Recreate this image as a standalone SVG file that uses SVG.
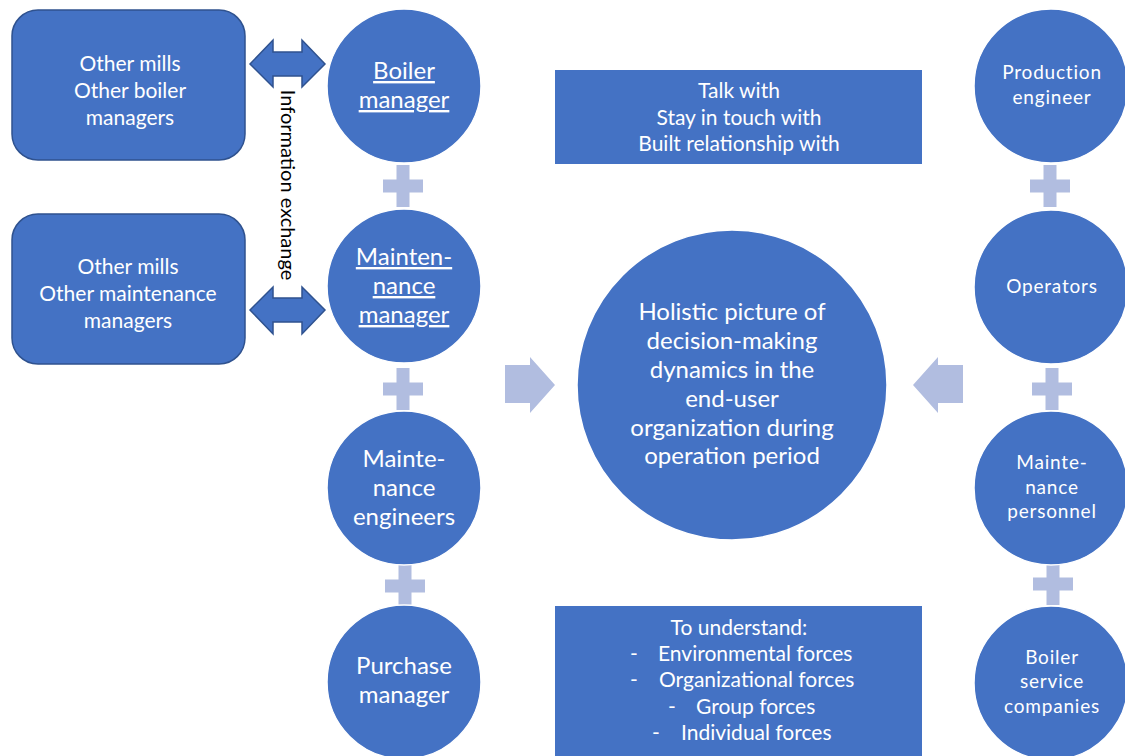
<svg xmlns="http://www.w3.org/2000/svg" width="1125" height="756" viewBox="0 0 1125 756">
  <style>
    .node { fill: #4472C4; }
    .circ { fill: #4472C4; stroke: #ffffff; stroke-width: 1.5; }
    .box { fill: #4472C4; stroke: #2F528F; stroke-width: 1.5; }
    .light { fill: #B1BDE0; }
    .dbl { fill: #4472C4; stroke: #2F528F; stroke-width: 1.5; stroke-linejoin: miter; }
    text { font-family: Lato, "Liberation Sans", sans-serif; fill: #ffffff; text-anchor: middle; }
    .t21 { font-size: 21px; }
    .t24 { font-size: 24px; }
    .tr { font-size: 19px; letter-spacing: 0.8px; }
    .u { text-decoration: underline; }
    .lab { fill: #000000; font-size: 20px; }
  </style>
  <defs>
    <path id="plus" class="light" d="M-6.5,-21 H6.5 V-6.5 H20 V6.5 H6.5 V21 H-6.5 V6.5 H-20 V-6.5 H-6.5 Z"/>
  </defs>

  <!-- connectors: plus joins, block arrows and exchange arrows -->
  <g id="connectors">
    <use href="#plus" x="403" y="186"/>
    <use href="#plus" x="403" y="389"/>
    <use href="#plus" x="405" y="586"/>
    <use href="#plus" x="1050" y="186"/>
    <use href="#plus" x="1052" y="389"/>
    <use href="#plus" x="1053" y="584"/>
    <path class="light" d="M505,365 H530 V357 L555,385 L530,413 V403 H505 Z"/>
    <path class="light" d="M963,365 H938 V357 L913,385 L938,413 V403 H963 Z"/>
    <path class="dbl" d="M250,64 L273,40 V52 H302 V40 L325,64 L302,87 V76 H273 V87 Z"/>
    <path class="dbl" d="M250,310 L273,287 V298 H302 V287 L325,310 L302,334 V322 H273 V334 Z"/>
    <rect x="275" y="78" width="25" height="218" fill="#ffffff"/>
    <text class="lab" transform="translate(281,185) rotate(90)">Information exchange</text>
  </g>

  <g id="other-boiler-managers">
    <rect class="box" x="12" y="10" width="233" height="150" rx="26"/>
    <text class="t21"><tspan x="130" y="71">Other mills</tspan><tspan x="130" y="98">Other boiler</tspan><tspan x="130" y="125">managers</tspan></text>
  </g>
  <g id="other-maintenance-managers">
    <rect class="box" x="12" y="214" width="233" height="150" rx="26"/>
    <text class="t21"><tspan x="128" y="274">Other mills</tspan><tspan x="128" y="301">Other maintenance</tspan><tspan x="128" y="328">managers</tspan></text>
  </g>

  <g id="boiler-manager">
    <circle class="circ" cx="404" cy="86" r="77"/>
    <text class="t24 u"><tspan x="404" y="79">Boiler</tspan><tspan x="404" y="108">manager</tspan></text>
  </g>
  <g id="maintenance-manager">
    <circle class="circ" cx="404" cy="286" r="77"/>
    <text class="t24 u"><tspan x="404" y="265">Mainten-</tspan><tspan x="404" y="294">nance</tspan><tspan x="404" y="323">manager</tspan></text>
  </g>
  <g id="maintenance-engineers">
    <circle class="circ" cx="404" cy="488" r="77"/>
    <text class="t24"><tspan x="404" y="467">Mainte-</tspan><tspan x="404" y="496">nance</tspan><tspan x="404" y="525">engineers</tspan></text>
  </g>
  <g id="purchase-manager">
    <circle class="circ" cx="404" cy="682" r="77"/>
    <text class="t24"><tspan x="404" y="674">Purchase</tspan><tspan x="404" y="703">manager</tspan></text>
  </g>

  <g id="talk-with">
    <rect class="node" x="555" y="70" width="367" height="94"/>
    <text class="t21"><tspan x="739" y="98">Talk with</tspan><tspan x="739" y="125">Stay in touch with</tspan><tspan x="739" y="151">Built relationship with</tspan></text>
  </g>

  <g id="holistic-picture">
    <circle class="circ" cx="732" cy="385" r="155"/>
    <text class="t24"><tspan x="732" y="320">Holistic picture of</tspan><tspan x="732" y="349">decision-making</tspan><tspan x="732" y="378">dynamics in the</tspan><tspan x="732" y="407">end-user</tspan><tspan x="732" y="436">organization during</tspan><tspan x="732" y="464">operation period</tspan></text>
  </g>

  <g id="to-understand">
    <rect class="node" x="555" y="606" width="367" height="152"/>
    <text class="t21"><tspan x="739" y="635">To understand:</tspan></text>
    <text class="t21" style="text-anchor:start">
      <tspan x="630" y="661">-</tspan><tspan x="658" y="661">Environmental forces</tspan>
      <tspan x="630" y="687">-</tspan><tspan x="659" y="687">Organizational forces</tspan>
      <tspan x="668" y="714">-</tspan><tspan x="696" y="714">Group forces</tspan>
      <tspan x="652" y="740">-</tspan><tspan x="681" y="740">Individual forces</tspan>
    </text>
  </g>

  <g id="production-engineer">
    <circle class="circ" cx="1051" cy="86" r="77"/>
    <text class="tr"><tspan x="1052" y="79">Production</tspan><tspan x="1052" y="104">engineer</tspan></text>
  </g>
  <g id="operators">
    <circle class="circ" cx="1051" cy="287" r="77"/>
    <text class="tr"><tspan x="1052" y="293">Operators</tspan></text>
  </g>
  <g id="maintenance-personnel">
    <circle class="circ" cx="1051" cy="488" r="77"/>
    <text class="tr"><tspan x="1052" y="469">Mainte-</tspan><tspan x="1052" y="494">nance</tspan><tspan x="1052" y="518">personnel</tspan></text>
  </g>
  <g id="boiler-service-companies">
    <circle class="circ" cx="1051" cy="683" r="77"/>
    <text class="tr"><tspan x="1052" y="664">Boiler</tspan><tspan x="1052" y="688">service</tspan><tspan x="1052" y="713">companies</tspan></text>
  </g>
</svg>
